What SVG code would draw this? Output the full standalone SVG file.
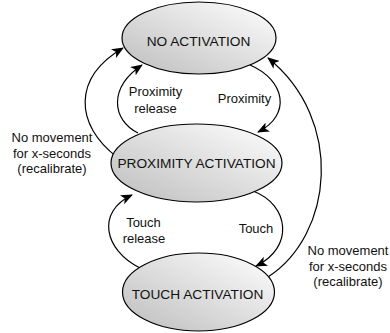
<svg xmlns="http://www.w3.org/2000/svg" width="390" height="333" viewBox="0 0 390 333">
<defs>
<linearGradient id="g" x1="1" y1="0" x2="0" y2="1">
<stop offset="0" stop-color="#ffffff"/>
<stop offset="1" stop-color="#bdbdbd"/>
</linearGradient>
<marker id="arr" viewBox="0 0 12 10" refX="11" refY="5" markerWidth="12" markerHeight="10" markerUnits="userSpaceOnUse" orient="auto">
<path d="M0,0 L12,5 L0,10 L3,5 Z" fill="#000"/>
</marker>
<style>
.node ellipse{fill:url(#g);stroke:#000;stroke-width:1.2}
.nt{font-family:"Liberation Sans",Arial,sans-serif;font-size:13.7px;text-anchor:middle;fill:#111}
.lb{font-family:"Liberation Sans",Arial,sans-serif;font-size:13px;text-anchor:middle;fill:#111}
.edges path{fill:none;stroke:#000;stroke-width:1.2;marker-end:url(#arr)}
</style>
</defs>
<rect width="390" height="333" fill="#fff"/>
<g id="connectors" class="edges">
<path d="M117,157 C75,125 72,78 123,48"/>
<path d="M138,133 C112,120 108,88 142,65"/>
<path d="M250,65 C285,80 292,115 258,132"/>
<path d="M268,277 C333,235 345,120 268,58"/>
<path d="M140,268 C104,250 96,212 132,195"/>
<path d="M253,191 C290,205 294,248 256,266"/>
</g>
<g id="node-no-activation" class="node">
<ellipse cx="199" cy="38" rx="77" ry="36"/>
<text class="nt" x="198.5" y="46">NO ACTIVATION</text>
</g>
<g id="node-proximity-activation" class="node">
<ellipse cx="196.5" cy="163" rx="85.5" ry="39"/>
<text class="nt" x="196.5" y="168">PROXIMITY ACTIVATION</text>
</g>
<g id="node-touch-activation" class="node">
<ellipse cx="198.5" cy="292" rx="76" ry="39"/>
<text class="nt" x="197.5" y="299">TOUCH ACTIVATION</text>
</g>
<g id="labels">
<text class="lb" x="52" y="142">No movement</text>
<text class="lb" x="52" y="157.5">for x-seconds</text>
<text class="lb" x="52" y="173">(recalibrate)</text>
<text class="lb" x="155.5" y="96">Proximity</text>
<text class="lb" x="155.5" y="112.5">release</text>
<text class="lb" x="244.5" y="103">Proximity</text>
<text class="lb" x="143.5" y="227">Touch</text>
<text class="lb" x="144" y="243">release</text>
<text class="lb" x="256" y="233">Touch</text>
<text class="lb" x="348" y="255">No movement</text>
<text class="lb" x="348" y="270.5">for x-seconds</text>
<text class="lb" x="348" y="285.5">(recalibrate)</text>
</g>
</svg>
